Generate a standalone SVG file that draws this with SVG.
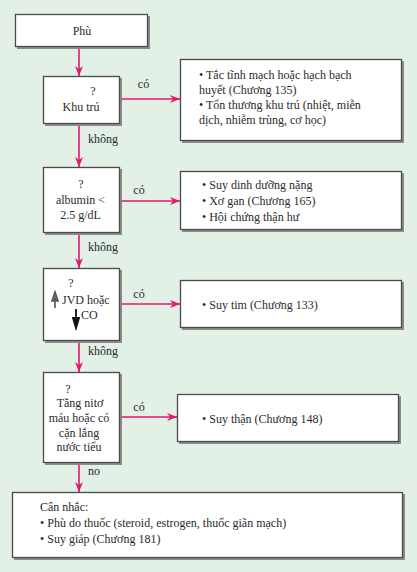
<svg xmlns="http://www.w3.org/2000/svg" width="417" height="572" viewBox="0 0 417 572">
<defs>
<style>
.bx{fill:#fff;stroke:#4a4a4a;stroke-width:1.3}
.sh{fill:#8c8c8c}
.t{font-family:"Liberation Serif","Times New Roman",serif;font-size:12px;fill:#2a2a2a}
.c{text-anchor:middle}
.ln{stroke:#e5196f;stroke-width:1.6;fill:none;marker-end:url(#ah)}
</style>
<marker id="ah" viewBox="0 0 10 8" refX="10" refY="4" markerWidth="10" markerHeight="8" markerUnits="userSpaceOnUse" orient="auto">
<path d="M0,0 L10,4 L0,8 L3,4 Z" fill="#e5196f"/>
</marker>
</defs>
<rect x="0" y="0" width="417" height="572" fill="#e2f0e5"/>
<g id="connectors">
<line class="ln" x1="79" y1="47" x2="79" y2="76"/>
<line class="ln" x1="79" y1="124" x2="79" y2="167"/>
<line class="ln" x1="79" y1="233" x2="79" y2="268"/>
<line class="ln" x1="79" y1="341" x2="79" y2="372"/>
<line class="ln" x1="79" y1="463" x2="79" y2="492"/>
<line class="ln" x1="120" y1="99" x2="180" y2="99"/>
<line class="ln" x1="120" y1="201" x2="180" y2="201"/>
<line class="ln" x1="120" y1="304" x2="180" y2="304"/>
<line class="ln" x1="120" y1="417" x2="177" y2="417"/>
<text class="t" x="143.5" y="88" text-anchor="middle">có</text>
<text class="t" x="139" y="194" text-anchor="middle">có</text>
<text class="t" x="139" y="298" text-anchor="middle">có</text>
<text class="t" x="139" y="411" text-anchor="middle">có</text>
<text class="t" x="88" y="143">không</text>
<text class="t" x="88" y="251">không</text>
<text class="t" x="88" y="355">không</text>
<text class="t" x="88" y="475">no</text>
</g>
<g id="phu">
<rect class="sh" x="17" y="16" width="133" height="33"/>
<rect class="bx" x="15.5" y="14.5" width="132" height="32"/>
<text class="t c" x="82" y="35">Phù</text>
</g>
<g id="khutru">
<rect class="sh" x="45" y="78" width="77" height="48"/>
<rect class="bx" x="43.5" y="76.5" width="76" height="47"/>
<text class="t c" x="93" y="95">?</text>
<text class="t c" x="81" y="111">Khu trú</text>
</g>
<g id="r1">
<rect class="sh" x="182" y="61" width="222" height="82"/>
<rect class="bx" x="180.5" y="59.5" width="221" height="81"/>
<text class="t" x="199" y="79">• Tắc tĩnh mạch hoặc hạch bạch</text>
<text class="t" x="199" y="94">huyết (Chương 135)</text>
<text class="t" x="199" y="109">• Tổn thương khu trú (nhiệt, miễn</text>
<text class="t" x="199" y="124">dịch, nhiễm trùng, cơ học)</text>
</g>
<g id="albumin">
<rect class="sh" x="45" y="169" width="77" height="66"/>
<rect class="bx" x="43.5" y="167.5" width="76" height="65"/>
<text class="t c" x="81" y="188">?</text>
<text class="t c" x="80.5" y="204">albumin &lt;</text>
<text class="t c" x="80.5" y="219">2.5 g/dL</text>
</g>
<g id="r2">
<rect class="sh" x="182" y="173" width="222" height="59"/>
<rect class="bx" x="180.5" y="171.5" width="221" height="58"/>
<text class="t" x="202" y="189">• Suy dinh dưỡng nặng</text>
<text class="t" x="202" y="205">• Xơ gan (Chương 165)</text>
<text class="t" x="202" y="221">• Hội chứng thận hư</text>
</g>
<g id="jvd">
<rect class="sh" x="45" y="270" width="77" height="73"/>
<rect class="bx" x="43.5" y="268.5" width="76" height="72"/>
<text class="t c" x="71" y="287">?</text>
<text class="t" x="62" y="304" font-size="14">JVD hoặc</text>
<text class="t" x="81" y="319" font-size="14">CO</text>
<path d="M55,308 L55,298 M52,301 L55,292 L58,301 Z" stroke="#555" stroke-width="1.6" fill="#777"/>
<path d="M76,309 L76,320 M73,318 L76,328 L79,318 Z" stroke="#111" stroke-width="1.8" fill="#111"/>
</g>
<g id="r3">
<rect class="sh" x="182" y="282" width="222" height="48"/>
<rect class="bx" x="180.5" y="280.5" width="221" height="47"/>
<text class="t" x="202" y="309">• Suy tim (Chương 133)</text>
</g>
<g id="nito">
<rect class="sh" x="45" y="374" width="77" height="91"/>
<rect class="bx" x="43.5" y="372.5" width="76" height="90"/>
<text class="t c" x="68" y="393">?</text>
<text class="t c" x="80" y="407">Tăng nitơ</text>
<text class="t c" x="79" y="422">máu hoặc có</text>
<text class="t c" x="79" y="437">cặn lắng</text>
<text class="t c" x="79" y="451">nước tiểu</text>
</g>
<g id="r4">
<rect class="sh" x="179" y="396" width="222" height="48"/>
<rect class="bx" x="177.5" y="394.5" width="221" height="47"/>
<text class="t" x="202" y="423">• Suy thận (Chương 148)</text>
</g>
<g id="bottom">
<rect class="sh" x="14" y="494" width="391" height="66"/>
<rect class="bx" x="12.5" y="492.5" width="390" height="65"/>
<text class="t" x="40" y="511">Cân nhắc:</text>
<text class="t" x="40" y="527">• Phù do thuốc (steroid, estrogen, thuốc giãn mạch)</text>
<text class="t" x="40" y="543">• Suy giáp (Chương 181)</text>
</g>
</svg>
